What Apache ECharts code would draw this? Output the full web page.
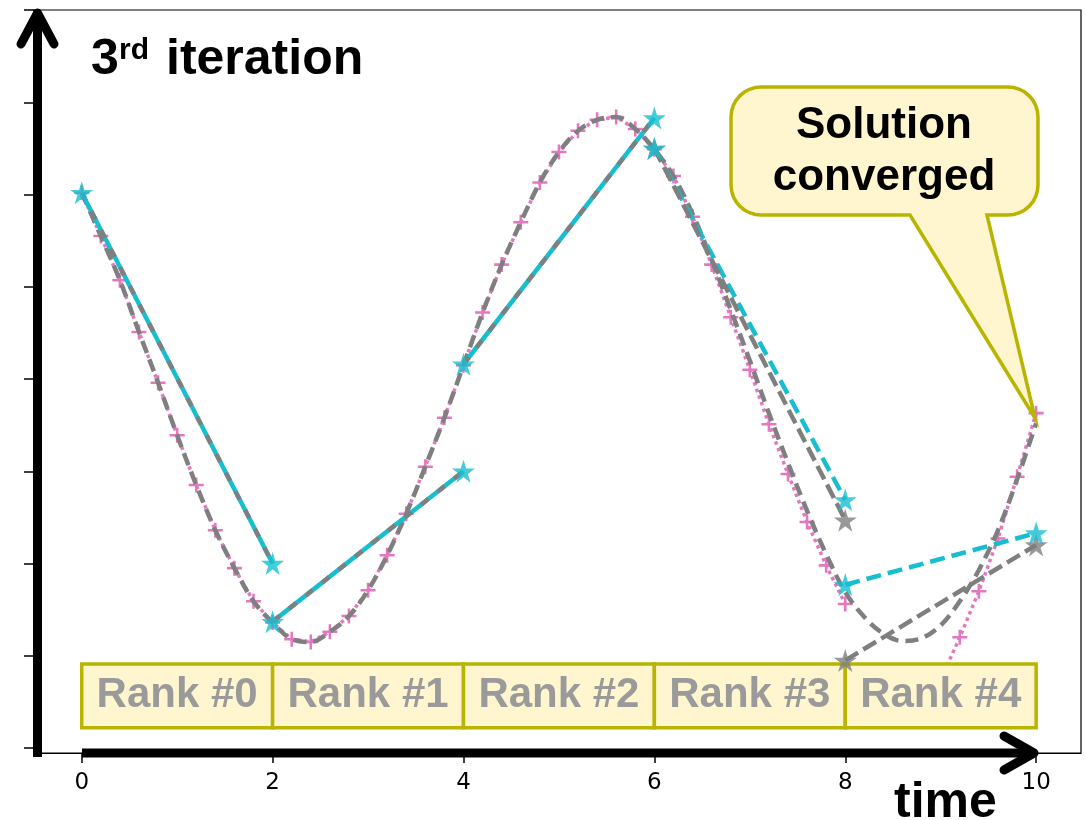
<!DOCTYPE html>
<html>
<head>
<meta charset="utf-8">
<script src="https://cdn.jsdelivr.net/npm/echarts@6/dist/echarts.min.js"></script>
<style>html,body{margin:0;padding:0;background:#fff}#c{width:1086px;height:820px}</style>
</head>
<body>
<div id="c"></div>
<script>
// ---- data ----
const fineT = [0,0.2,0.4,0.6,0.8,1.0,1.2,1.4,1.6,1.8,2.0,2.2,2.4,2.6,2.8,3.0,3.2,3.4,3.6,3.8,4.0,4.2,4.4,4.6,4.8,5.0,5.2,5.4,5.6,5.8,6.0,6.2,6.4,6.6,6.8,7.0,7.2,7.4,7.6,7.8,8.0];
const fineY = [6.02,5.55,5.07,4.51,3.96,3.39,2.85,2.36,1.95,1.59,1.36,1.18,1.15,1.26,1.43,1.71,2.09,2.54,3.05,3.58,4.15,4.72,5.24,5.70,6.13,6.46,6.69,6.81,6.84,6.71,6.49,6.20,5.76,5.24,4.67,4.10,3.51,2.97,2.45,1.98,1.56];
const fineT4 = [8.0,8.2,8.4,8.6,8.8,9.0,9.2,9.4,9.6,9.8,10.0];
const fineY4 = [0.52,0.37,0.30,0.33,0.46,0.74,1.20,1.70,2.27,2.94,3.63];
const refT = [0,0.2,0.4,0.6,0.8,1.0,1.2,1.4,1.6,1.8,2.0,2.2,2.4,2.6,2.8,3.0,3.2,3.4,3.6,3.8,4.0,4.2,4.4,4.6,4.8,5.0,5.2,5.4,5.6,5.8,6.0,6.2,6.4,6.6,6.8,7.0,7.2,7.4,7.6,7.8,8.0,8.2,8.4,8.6,8.8,9.0,9.2,9.4,9.6,9.8,10.0];
const refY = [6.02,5.55,5.07,4.51,3.96,3.39,2.85,2.36,1.95,1.59,1.36,1.18,1.15,1.26,1.43,1.71,2.09,2.54,3.05,3.58,4.15,4.72,5.24,5.70,6.13,6.46,6.69,6.81,6.84,6.71,6.49,6.20,5.79,5.29,4.75,4.20,3.63,3.09,2.57,2.10,1.69,1.42,1.24,1.16,1.19,1.33,1.59,1.93,2.36,2.91,3.52];
const rankStart = [0,2,4,6,8];
const rankEnd = [2,4,6,8,10];
const cyanStartY = [6.02,1.37,4.16,6.50,1.77];
const cyanEndY = [2.00,3.00,6.83,2.69,2.33];
const greyStartY = [6.02,1.37,4.16,6.50,0.95];
const greyEndY = [2.00,3.00,6.83,2.47,2.20];
const rankLabels = ['Rank #0','Rank #1','Rank #2','Rank #3','Rank #4'];
const xTicks = [0,2,4,6,8,10];
const yTicks = [0,1,2,3,4,5,6,7,8];

// ---- styles ----
const CYAN = '#17BECF', GREY = '#7F7F7F', PINK = '#E377C2';
const BOXFILL = '#FFF5CE', BOXLINE = '#B8B400';
const STAR = 'path://M50,0 L61.2,34.5 L97.6,34.5 L68.2,55.9 L79.4,90.5 L50,69.1 L20.6,90.5 L31.8,55.9 L2.4,34.5 L38.8,34.5 Z';
const PLUS = 'path://M5.4,0 H7.6 V5.4 H13 V7.6 H7.6 V13 H5.4 V7.6 H0 V5.4 H5.4 Z';
const zip = (a, b) => a.map((v, i) => [v, b[i]]);

const series = [];
series.push({type:'line', z:2, data: zip(fineT, fineY), symbol: PLUS, symbolSize: 15, showAllSymbol: true,
  itemStyle:{color: PINK}, lineStyle:{color: PINK, width: 3.5, type:[3.5,3.5]}});
series.push({type:'line', z:2, data: zip(fineT4, fineY4), symbol: PLUS, symbolSize: 15, showAllSymbol: true,
  itemStyle:{color: PINK}, lineStyle:{color: PINK, width: 3.5, type:[3.5,3.5]}});
series.push({type:'line', z:3, data: zip(refT, refY), symbol:'none', smooth: 0.35,
  lineStyle:{color: GREY, width: 4.5, type:[13,7]}});
rankStart.forEach((t0, i) => {
  series.push({type:'line', z:4, symbol:'none', data:[[t0, cyanStartY[i]],[rankEnd[i], cyanEndY[i]]],
    lineStyle:{color: CYAN, width: 4.5, type: i < 3 ? 'solid' : [15,7]}});
});
rankStart.forEach((t0, i) => {
  series.push({type:'line', z:5, symbol:'none', data:[[t0, greyStartY[i]],[rankEnd[i], greyEndY[i]]],
    lineStyle:{color: GREY, width: 4.5, type: i < 3 ? [9,12] : [15,6]}});
});
series.push({type:'line', z:20, data:[], symbol:'none',
  markArea:{silent:true, z:20,
    itemStyle:{color: BOXFILL, borderColor: BOXLINE, borderWidth: 3.5, opacity: 1},
    label:{show:true, position:'inside', color:'#9A9A9A', fontSize: 42, fontWeight:'bold', fontFamily:'"Liberation Sans", Arial, sans-serif'},
    data: rankLabels.map((n, i) => [{name:n, xAxis: rankStart[i], yAxis: 0.22},{xAxis: rankEnd[i], yAxis: 0.91}])
  }});
const greyStars = [];
rankStart.forEach((t0, i) => { if (i >= 3) { greyStars.push([t0, greyStartY[i]]); greyStars.push([rankEnd[i], greyEndY[i]]); } });
const cyanStars = [];
rankStart.forEach((t0, i) => { cyanStars.push([t0, cyanStartY[i]]); cyanStars.push([rankEnd[i], cyanEndY[i]]); });
series.push({type:'scatter', z:30, data: greyStars, symbol: STAR, symbolSize: 23, itemStyle:{color: GREY}});
series.push({type:'scatter', z:31, data: cyanStars, symbol: STAR, symbolSize: 23, itemStyle:{color: CYAN}});

function calloutPoints(l, t, r, b, rad, p1, tip, p2) {
  const pts = [];
  const arc = (cx, cy, a0, a1) => { for (let k = 0; k <= 8; k++) { const a = a0 + (a1 - a0) * k / 8; pts.push([cx + rad * Math.cos(a), cy + rad * Math.sin(a)]); } };
  arc(l + rad, t + rad, Math.PI, 1.5 * Math.PI);
  arc(r - rad, t + rad, 1.5 * Math.PI, 2 * Math.PI);
  arc(r - rad, b - rad, 0, 0.5 * Math.PI);
  pts.push([p2, b]); pts.push(tip); pts.push([p1, b]);
  arc(l + rad, b - rad, 0.5 * Math.PI, Math.PI);
  return pts;
}

const FONT = '"Liberation Sans", Arial, sans-serif';
const option = {
  animation: false,
  backgroundColor: '#fff',
  grid: {left: 34, right: 5, top: 10, bottom: 67, show: true, borderColor: '#000', borderWidth: 1.2, containLabel: false},
  xAxis: {type:'value', min:-0.5, max:10.47,
    axisLine:{show:true, onZero:false, lineStyle:{color:'#000', width:1.2}},
    axisTick:{show:true, customValues: xTicks, length: 10, lineStyle:{color:'#000', width:1.5}},
    axisLabel:{show:true, customValues: xTicks, fontSize: 23, fontFamily:'"DejaVu Sans", sans-serif', color:'#000', margin: 19},
    splitLine:{show:false}},
  yAxis: {type:'value', min:-0.054, max:8,
    axisLine:{show:true, onZero:false, lineStyle:{color:'#000', width:1.2}},
    axisTick:{show:true, customValues: yTicks, length: 10, lineStyle:{color:'#000', width:1.5}},
    axisLabel:{show:false},
    splitLine:{show:false}},
  series: series,
  graphic: [
    {type:'polyline', z:50, shape:{points:[[37.5,757],[37.5,16]]}, style:{stroke:'#000', lineWidth:9, fill:null}},
    {type:'polyline', z:50, shape:{points:[[21,44],[37.5,13],[54,44]]}, style:{stroke:'#000', lineWidth:9, fill:null, lineCap:'round', lineJoin:'round'}},
    {type:'polyline', z:50, shape:{points:[[82,753],[1030,753]]}, style:{stroke:'#000', lineWidth:9, fill:null}},
    {type:'polyline', z:50, shape:{points:[[1004,736],[1034,753],[1004,770]]}, style:{stroke:'#000', lineWidth:9, fill:null, lineCap:'round', lineJoin:'round'}},
    {type:'text', z:60, x:91, y:60, style:{text:'3', fontSize:50, fontWeight:'bold', fontFamily:FONT, fill:'#000', align:'left', verticalAlign:'middle'}},
    {type:'text', z:60, x:119, y:51, style:{text:'rd', fontSize:30, fontWeight:'bold', fontFamily:FONT, fill:'#000', align:'left', verticalAlign:'middle'}},
    {type:'text', z:60, x:166, y:60, style:{text:'iteration', fontSize:50, fontWeight:'bold', fontFamily:FONT, fill:'#000', align:'left', verticalAlign:'middle'}},
    {type:'text', z:60, x:894, y:803, style:{text:'time', fontSize:50, fontWeight:'bold', fontFamily:FONT, fill:'#000', align:'left', verticalAlign:'middle'}},
    {type:'polygon', z:70, shape:{points: calloutPoints(731, 87, 1038, 215, 30, 910, [1035, 418], 987)},
      style:{fill: BOXFILL, stroke: BOXLINE, lineWidth: 3.5, lineJoin:'miter'}},
    {type:'text', z:71, x:884, y:126, style:{text:'Solution', fontSize:44, fontWeight:'bold', fontFamily:FONT, fill:'#000', align:'center', verticalAlign:'middle'}},
    {type:'text', z:71, x:884, y:178, style:{text:'converged', fontSize:44, fontWeight:'bold', fontFamily:FONT, fill:'#000', align:'center', verticalAlign:'middle'}}
  ]
};
const chart = echarts.init(document.getElementById('c'), null, {renderer:'canvas'});
chart.setOption(option);
</script>
</body>
</html>
